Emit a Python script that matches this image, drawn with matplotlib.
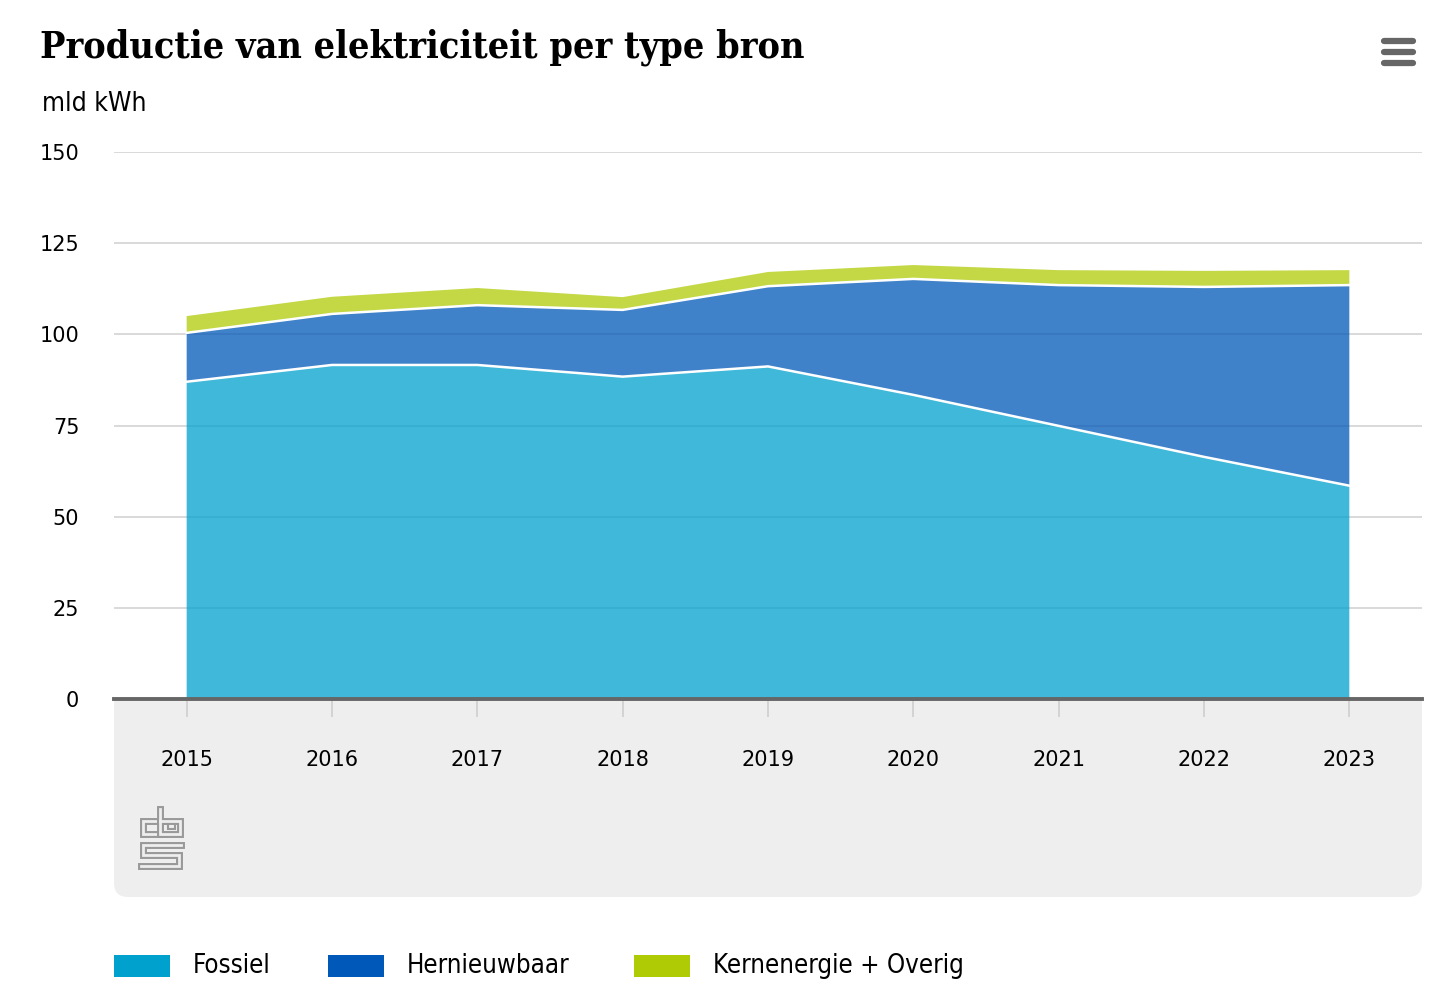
import numpy as np
import matplotlib
matplotlib.use("Agg")
import matplotlib.pyplot as plt
from matplotlib.patches import FancyBboxPatch, Rectangle
from matplotlib.lines import Line2D
from matplotlib.transforms import IdentityTransform

# mld kWh per jaar
years = [2015, 2016, 2017, 2018, 2019, 2020, 2021, 2022, 2023]
fossiel = [87.0, 91.6, 91.6, 88.4, 91.2, 83.4, 74.9, 66.4, 58.5]
hernieuwbaar = [13.4, 14.0, 16.4, 18.3, 22.0, 31.8, 38.6, 46.6, 55.0]
kern_overig = [4.6, 4.7, 4.7, 3.5, 3.9, 3.8, 4.1, 4.4, 4.1]

series_names = ["Fossiel", "Hernieuwbaar", "Kernenergie + Overig"]
series_colors = ["#00a1cd", "#0058b8", "#afcb05"]
yticks = [0, 25, 50, 75, 100, 125, 150]

title = "Productie van elektriciteit per type bron"
unit = "mld kWh"

W, H = 1444, 1002
fig = plt.figure(figsize=(W / 100, H / 100), dpi=100)
pix = IdentityTransform()

cond = dict(family=["DejaVu Sans"], fontstretch="condensed")

# grijs vlak onder de x-as
panel = FancyBboxPatch((114, H - 897), 1308, 260,
                       boxstyle="round,pad=0,rounding_size=14",
                       fc="#eeeeee", ec="none", transform=pix, zorder=-5)
fig.add_artist(panel)

ax = fig.add_axes([114 / W, 1 - 699 / H, 1308 / W, 547 / H])
ax.set_facecolor("white")

ax.stackplot(years, fossiel, hernieuwbaar, kern_overig,
             colors=series_colors, alpha=0.75, lw=0)
tops = np.cumsum([fossiel, hernieuwbaar], axis=0)
for t in tops:
    ax.plot(years, t, color="white", lw=1.8, zorder=3)

ax.set_xlim(2014.5, 2023.5)
ax.set_ylim(0, 150)
ax.set_yticks(yticks)
ax.set_xticks(years)
ax.yaxis.grid(True, color="#d0d0d0", lw=1.1)
ax.set_axisbelow(True)

for s in ["top", "right", "left"]:
    ax.spines[s].set_visible(False)
ax.spines["bottom"].set_color("#666666")
ax.spines["bottom"].set_linewidth(2.8)
ax.spines["bottom"].set_zorder(4)

ax.tick_params(axis="y", length=0, pad=25, labelsize=15)
ax.tick_params(axis="x", length=13, width=1.1, color="#cccccc", pad=24,
               labelsize=15)

# titel en eenheid
fig.text(40 / W, 1 - 57 / H, title, fontsize=27, fontweight="bold",
         family="DejaVu Serif", fontstretch="condensed", va="baseline")
fig.text(42 / W, 1 - 111 / H, unit, fontsize=19, va="baseline", **cond)

# menu-icoon rechtsboven
for y in [41, 52, 63]:
    fig.add_artist(Line2D([1384, 1413], [H - y, H - y], color="#666666",
                          lw=4.5, solid_capstyle="round", transform=pix))

# cbs logo (ruwe benadering)
logo_paths = [
    [(164, 821), (143, 821), (143, 834), (164, 834)],
    [(160, 809), (160, 834), (180, 834), (180, 821), (160, 821)],
    [(181, 845), (143, 845), (143, 855), (179, 855), (179, 866), (141, 866)],
]
for p in logo_paths:
    xs = [q[0] for q in p]
    ys = [H - q[1] for q in p]
    fig.add_artist(Line2D(xs, ys, color="#999999", lw=5, transform=pix,
                          solid_joinstyle="miter"))
    fig.add_artist(Line2D(xs, ys, color="#eeeeee", lw=2, transform=pix,
                          solid_joinstyle="miter"))
fig.add_artist(Rectangle((168, H - 829), 7, 7, fc="none", ec="#999999",
                         lw=1.5, transform=pix))

# legenda
legend_x = [114, 328, 634]
for x0, name, col in zip(legend_x, series_names, series_colors):
    fig.add_artist(Rectangle((x0, H - 977), 56, 22, fc=col, ec="none",
                             transform=pix))
    fig.text((x0 + 79) / W, 1 - 966 / H, name, fontsize=18.5, va="center",
             **cond)

fig.savefig("out.png", dpi=100)
